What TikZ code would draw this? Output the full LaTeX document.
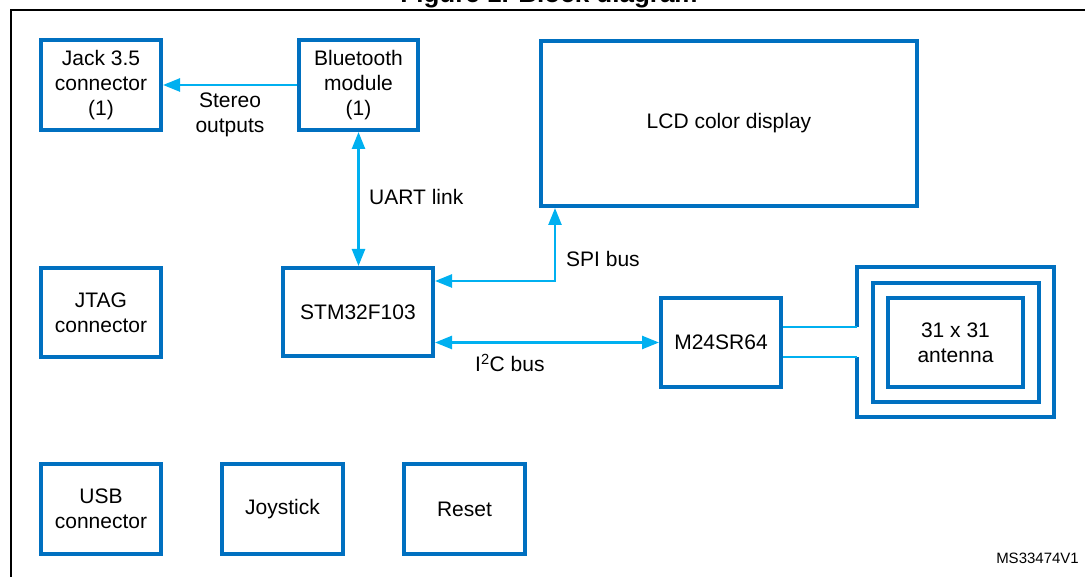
\documentclass[tikz,border=0pt]{standalone}
\usepackage{fontspec}
\setmainfont{Liberation Sans}
\usetikzlibrary{arrows.meta}
\definecolor{boxblue}{RGB}{0,112,192}
\definecolor{linkblue}{RGB}{0,176,240}
\tikzset{
  blk/.style={draw=boxblue, line width=4pt, rectangle, align=center, inner sep=0pt,
    font=\fontsize{21}{25}\selectfont},
  lbl/.style={font=\fontsize{21}{25}\selectfont, align=center, inner sep=0pt},
  link/.style={draw=linkblue, line width=2.5pt},
  tip/.tip={Triangle[length=17pt,width=13pt]},
}
\begin{document}
\begin{tikzpicture}[x=1pt,y=-1pt]
\useasboundingbox (0,0) rectangle (1085,577);
% title and frame
\node[anchor=base, inner sep=0pt, font=\bfseries\fontsize{26}{30}\selectfont] (title) at (549,2.5) {Figure 1. Block diagram};
\draw[line width=2.5pt] (11,620) -- (11,10) -- (1120,10);
\node[anchor=base east, inner sep=0pt, font=\fontsize{15}{18}\selectfont] (ref) at (1079,563) {MS33474V1};
% blocks
\node[blk, minimum width=120pt, minimum height=90pt] (jack) at (101,85) {Jack 3.5\\connector\\(1)};
\node[blk, minimum width=119pt, minimum height=90pt] (bt) at (358.5,85) {Bluetooth\\module\\(1)};
\node[blk, minimum width=376pt, minimum height=165pt] (lcd) at (729,123.5) {LCD color display};
\node[blk, minimum width=120pt, minimum height=89pt] (jtag) at (101,312.5) {JTAG\\connector};
\node[blk, minimum width=150pt, minimum height=88pt] (stm) at (358,312) {STM32F103};
\node[blk, minimum width=120pt, minimum height=89pt] (m24) at (721,342.5) {M24SR64};
\node[blk, minimum width=120pt, minimum height=90pt] (usb) at (101,509) {USB\\connector};
\node[blk, minimum width=121pt, minimum height=90pt] (joy) at (282.5,509) {Joystick};
\node[blk, minimum width=121pt, minimum height=90pt] (reset) at (464.5,509) {Reset};
% antenna
\node[blk, minimum width=135pt, minimum height=89pt] (ant) at (955.5,342.5) {31 x 31\\antenna};
\node[draw=boxblue, line width=4pt, rectangle, minimum width=166pt, minimum height=119pt, inner sep=0pt] (coil) at (956,342.5) {};
\coordinate (oa) at (857,327);
\coordinate (ob) at (857,357);
\draw[draw=boxblue, line width=4pt, line join=miter] (oa) -- (857,267) -- (1054,267) -- (1054,417) -- (857,417) -- (ob);
% connectors
\draw[link, -tip] (bt.west) -- (jack.east);
\node[lbl] (stereo) at (230,115) {Stereo\\outputs};
\draw[link, tip-tip] (bt.south) -- (bt.south |- stm.north);
\node[lbl, anchor=west] (uart) at (369,197) {UART link};
\coordinate (spic) at (555,281);
\draw[link, tip-tip] (lcd.south -| spic) -- (spic) -- (stm.east |- spic);
\node[lbl, anchor=west] (spi) at (566,259) {SPI bus};
\draw[link, tip-tip] (stm.east |- m24.west) -- (m24.west);
\node[lbl, anchor=west] (i2c) at (475,363) {I\textsuperscript{2}C bus};
\draw[link] (m24.east |- oa) -- (oa);
\draw[link] (m24.east |- ob) -- (ob);
\end{tikzpicture}
\end{document}
